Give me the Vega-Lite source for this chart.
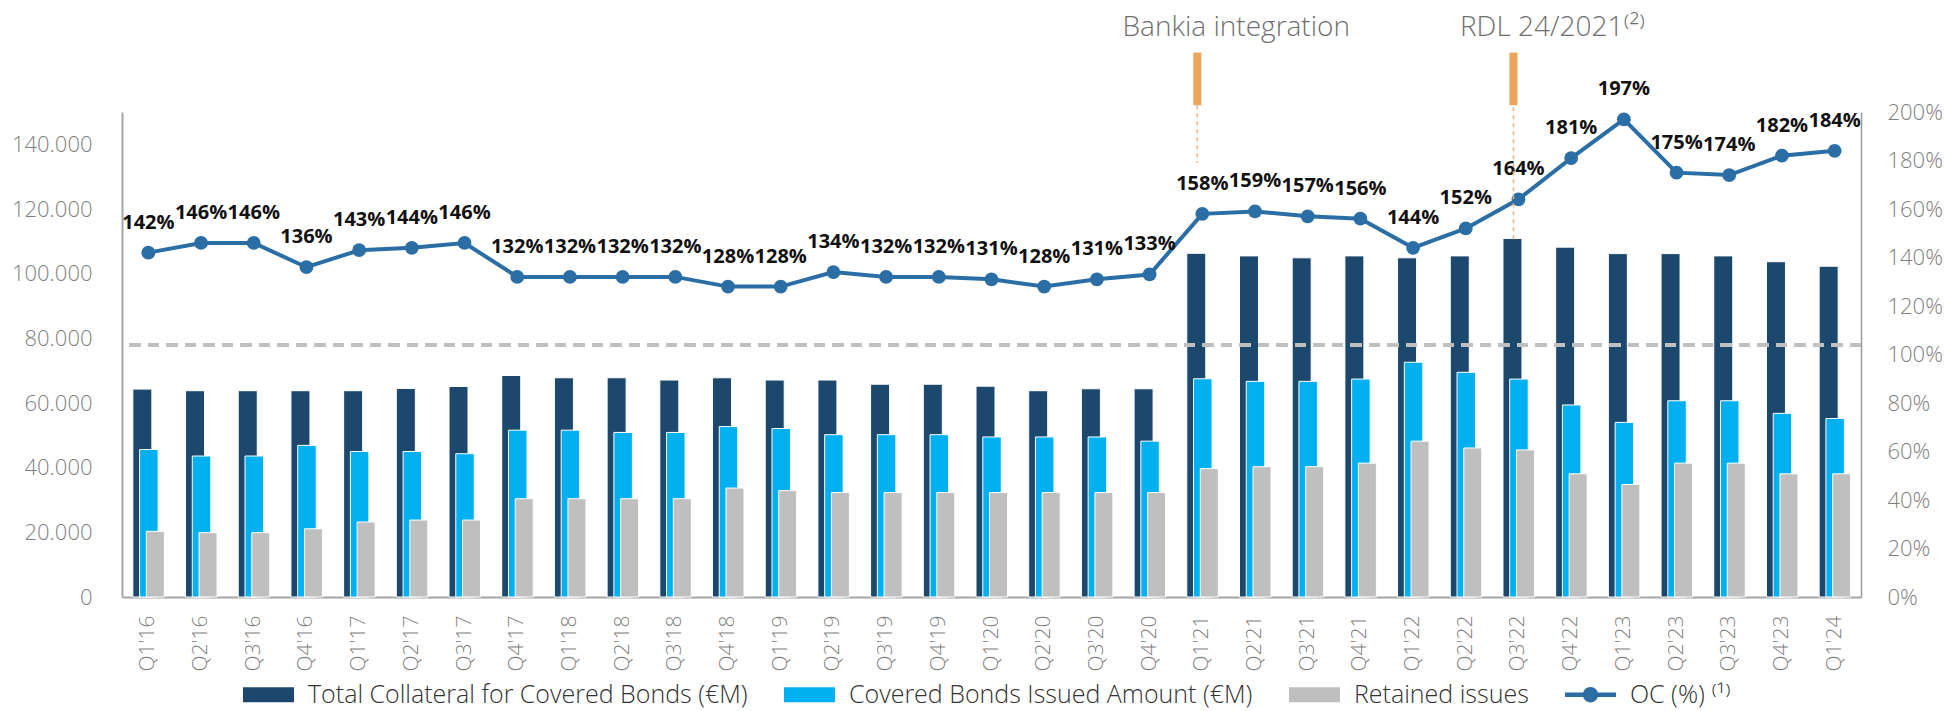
{
  "$schema": "https://vega.github.io/schema/vega-lite/v6.json",
  "width": 1739,
  "height": 485,
  "autosize": "none",
  "padding": {"left": 122, "top": 112, "right": 83, "bottom": 114},
  "background": "white",
  "config": {"view": {"stroke": null}, "font": "Open Sans"},
  "datasets": {
    "main": [
      {"q": "Q1'16", "total": 64300, "issued": 45600, "retained": 20300, "oc": 1.42},
      {"q": "Q2'16", "total": 63800, "issued": 43600, "retained": 19900, "oc": 1.46},
      {"q": "Q3'16", "total": 63800, "issued": 43600, "retained": 19900, "oc": 1.46},
      {"q": "Q4'16", "total": 63800, "issued": 46900, "retained": 21100, "oc": 1.36},
      {"q": "Q1'17", "total": 63800, "issued": 45000, "retained": 23200, "oc": 1.43},
      {"q": "Q2'17", "total": 64500, "issued": 45000, "retained": 23800, "oc": 1.44},
      {"q": "Q3'17", "total": 65100, "issued": 44300, "retained": 23800, "oc": 1.46},
      {"q": "Q4'17", "total": 68500, "issued": 51600, "retained": 30400, "oc": 1.32},
      {"q": "Q1'18", "total": 67800, "issued": 51600, "retained": 30400, "oc": 1.32},
      {"q": "Q2'18", "total": 67800, "issued": 50900, "retained": 30400, "oc": 1.32},
      {"q": "Q3'18", "total": 67100, "issued": 50900, "retained": 30400, "oc": 1.32},
      {"q": "Q4'18", "total": 67800, "issued": 52700, "retained": 33700, "oc": 1.28},
      {"q": "Q1'19", "total": 67100, "issued": 52100, "retained": 32900, "oc": 1.28},
      {"q": "Q2'19", "total": 67100, "issued": 50200, "retained": 32300, "oc": 1.34},
      {"q": "Q3'19", "total": 65800, "issued": 50200, "retained": 32300, "oc": 1.32},
      {"q": "Q4'19", "total": 65800, "issued": 50200, "retained": 32300, "oc": 1.32},
      {"q": "Q1'20", "total": 65200, "issued": 49500, "retained": 32300, "oc": 1.31},
      {"q": "Q2'20", "total": 63800, "issued": 49500, "retained": 32300, "oc": 1.28},
      {"q": "Q3'20", "total": 64400, "issued": 49500, "retained": 32300, "oc": 1.31},
      {"q": "Q4'20", "total": 64400, "issued": 48200, "retained": 32300, "oc": 1.33},
      {"q": "Q1'21", "total": 106300, "issued": 67500, "retained": 39700, "oc": 1.58},
      {"q": "Q2'21", "total": 105500, "issued": 66700, "retained": 40300, "oc": 1.59},
      {"q": "Q3'21", "total": 104900, "issued": 66700, "retained": 40300, "oc": 1.57},
      {"q": "Q4'21", "total": 105500, "issued": 67400, "retained": 41400, "oc": 1.56},
      {"q": "Q1'22", "total": 104900, "issued": 72600, "retained": 48200, "oc": 1.44},
      {"q": "Q2'22", "total": 105500, "issued": 69500, "retained": 46100, "oc": 1.52},
      {"q": "Q3'22", "total": 110900, "issued": 67400, "retained": 45500, "oc": 1.64},
      {"q": "Q4'22", "total": 108200, "issued": 59400, "retained": 38100, "oc": 1.81},
      {"q": "Q1'23", "total": 106200, "issued": 54000, "retained": 34800, "oc": 1.97},
      {"q": "Q2'23", "total": 106200, "issued": 60700, "retained": 41400, "oc": 1.75},
      {"q": "Q3'23", "total": 105500, "issued": 60700, "retained": 41400, "oc": 1.74},
      {"q": "Q4'23", "total": 103700, "issued": 56800, "retained": 38100, "oc": 1.82},
      {"q": "Q1'24", "total": 102300, "issued": 55200, "retained": 38100, "oc": 1.84}
    ],
    "events": [
      {"q": "Q1'21", "label": "Bankia integration"},
      {"q": "Q3'22", "label": "RDL 24/2021⁽²⁾"}
    ]
  },
  "data": {"name": "main"},
  "layer": [
    {
      "layer": [
        {
          "mark": {"type": "bar", "width": 19, "xOffset": -6, "stroke": "white", "strokeWidth": 1},
          "encoding": {
            "x": {
              "field": "q", "type": "ordinal",
              "scale": {"domain": ["Q1'16","Q2'16","Q3'16","Q4'16","Q1'17","Q2'17","Q3'17","Q4'17","Q1'18","Q2'18","Q3'18","Q4'18","Q1'19","Q2'19","Q3'19","Q4'19","Q1'20","Q2'20","Q3'20","Q4'20","Q1'21","Q2'21","Q3'21","Q4'21","Q1'22","Q2'22","Q3'22","Q4'22","Q1'23","Q2'23","Q3'23","Q4'23","Q1'24"], "paddingInner": 0, "paddingOuter": 0},
              "axis": {"title": null, "labelAngle": -90, "labelPadding": 18, "ticks": false, "domainColor": "#a6a6a6", "domainWidth": 2, "labelFontSize": 21, "labelColor": "#7f7f7f", "labelFontWeight": 300, "labelFont": "Open Sans"}
            },
            "y": {
              "field": "total", "type": "quantitative", "stack": null, "title": null,
              "scale": {"domain": [0, 150000], "nice": false},
              "axis": {"orient": "left", "values": [0, 20000, 40000, 60000, 80000, 100000, 120000, 140000], "labelExpr": "replace(format(datum.value, ','), ',', '.')", "grid": false, "ticks": false, "domainColor": "#a6a6a6", "domainWidth": 2, "labelPadding": 30, "labelFontSize": 22, "labelColor": "#7f7f7f", "labelFontWeight": 300, "labelFont": "Open Sans"}
            },
            "color": {
              "datum": "Total Collateral for Covered Bonds (€M)",
              "scale": {"domain": ["Total Collateral for Covered Bonds (€M)", "Covered Bonds Issued Amount (€M)", "Retained issues", "OC (%)"], "range": ["#1c486e", "#00b0f0", "#bfbfbf", "#2a6ea5"]},
              "legend": {
                "title": null, "orient": "none", "legendX": 121, "legendY": 557, "direction": "horizontal",
                "symbolSize": 2601, "labelFontSize": 25, "labelFont": "Open Sans", "labelFontWeight": 300, "labelColor": "#333333",
                "labelOffset": 14, "columnPadding": 36, "labelLimit": 700, "padding": 0,
                "symbolStrokeWidth": 0, "symbolOpacity": 1,
                "symbolType": {"expr": "datum.value === 'OC (%)' ? 'M-1,-0.09H1V0.09H-1Z M0.3,0A0.3,0.3,0,1,1,-0.3,0A0.3,0.3,0,1,1,0.3,0Z' : 'M-1,-0.29H1V0.29H-1Z'"},
                "labelExpr": "datum.label === 'OC (%)' ? 'OC (%)  ⁽¹⁾' : datum.label"
              }
            }
          }
        },
        {
          "mark": {"type": "bar", "width": 18.5, "xOffset": 0.5, "stroke": "white", "strokeWidth": 1},
          "encoding": {
            "x": {"field": "q", "type": "ordinal", "scale": {"domain": ["Q1'16","Q2'16","Q3'16","Q4'16","Q1'17","Q2'17","Q3'17","Q4'17","Q1'18","Q2'18","Q3'18","Q4'18","Q1'19","Q2'19","Q3'19","Q4'19","Q1'20","Q2'20","Q3'20","Q4'20","Q1'21","Q2'21","Q3'21","Q4'21","Q1'22","Q2'22","Q3'22","Q4'22","Q1'23","Q2'23","Q3'23","Q4'23","Q1'24"]}},
            "y": {"field": "issued", "type": "quantitative", "stack": null, "title": null},
            "color": {"datum": "Covered Bonds Issued Amount (€M)"}
          }
        },
        {
          "mark": {"type": "bar", "width": 18, "xOffset": 7, "stroke": "white", "strokeWidth": 1},
          "encoding": {
            "x": {"field": "q", "type": "ordinal", "scale": {"domain": ["Q1'16","Q2'16","Q3'16","Q4'16","Q1'17","Q2'17","Q3'17","Q4'17","Q1'18","Q2'18","Q3'18","Q4'18","Q1'19","Q2'19","Q3'19","Q4'19","Q1'20","Q2'20","Q3'20","Q4'20","Q1'21","Q2'21","Q3'21","Q4'21","Q1'22","Q2'22","Q3'22","Q4'22","Q1'23","Q2'23","Q3'23","Q4'23","Q1'24"]}},
            "y": {"field": "retained", "type": "quantitative", "stack": null, "title": null},
            "color": {"datum": "Retained issues"}
          }
        },
        {
          "mark": {"type": "rule", "strokeDash": [11, 7.5], "color": "#c0c0c0", "strokeWidth": 3},
          "encoding": {"y": {"datum": 77900}}
        }
      ]
    },
    {
      "layer": [
        {
          "mark": {"type": "line", "strokeWidth": 4},
          "encoding": {
            "x": {"field": "q", "type": "ordinal", "scale": {"domain": ["Q1'16","Q2'16","Q3'16","Q4'16","Q1'17","Q2'17","Q3'17","Q4'17","Q1'18","Q2'18","Q3'18","Q4'18","Q1'19","Q2'19","Q3'19","Q4'19","Q1'20","Q2'20","Q3'20","Q4'20","Q1'21","Q2'21","Q3'21","Q4'21","Q1'22","Q2'22","Q3'22","Q4'22","Q1'23","Q2'23","Q3'23","Q4'23","Q1'24"]}},
            "y": {
              "field": "oc", "type": "quantitative", "title": null,
              "scale": {"domain": [0, 2], "nice": false},
              "axis": {"orient": "right", "values": [0, 0.2, 0.4, 0.6, 0.8, 1, 1.2, 1.4, 1.6, 1.8, 2], "format": ".0%", "grid": false, "ticks": false, "domainColor": "#9a9a9a", "domainWidth": 1.5, "labelPadding": 26, "labelFontSize": 22, "labelColor": "#7f7f7f", "labelFontWeight": 300, "labelFont": "Open Sans"}
            },
            "color": {"datum": "OC (%)"}
          }
        },
        {
          "mark": {"type": "point", "filled": true, "size": 190, "opacity": 1},
          "encoding": {
            "x": {"field": "q", "type": "ordinal", "scale": {"domain": ["Q1'16","Q2'16","Q3'16","Q4'16","Q1'17","Q2'17","Q3'17","Q4'17","Q1'18","Q2'18","Q3'18","Q4'18","Q1'19","Q2'19","Q3'19","Q4'19","Q1'20","Q2'20","Q3'20","Q4'20","Q1'21","Q2'21","Q3'21","Q4'21","Q1'22","Q2'22","Q3'22","Q4'22","Q1'23","Q2'23","Q3'23","Q4'23","Q1'24"]}},
            "y": {"field": "oc", "type": "quantitative", "title": null, "scale": {"domain": [0, 2], "nice": false}},
            "color": {"datum": "OC (%)"}
          }
        },
        {
          "mark": {"type": "text", "dy": -30, "fontSize": 20, "fontWeight": "bold", "color": "#111111", "font": "Open Sans"},
          "encoding": {
            "x": {"field": "q", "type": "ordinal", "scale": {"domain": ["Q1'16","Q2'16","Q3'16","Q4'16","Q1'17","Q2'17","Q3'17","Q4'17","Q1'18","Q2'18","Q3'18","Q4'18","Q1'19","Q2'19","Q3'19","Q4'19","Q1'20","Q2'20","Q3'20","Q4'20","Q1'21","Q2'21","Q3'21","Q4'21","Q1'22","Q2'22","Q3'22","Q4'22","Q1'23","Q2'23","Q3'23","Q4'23","Q1'24"]}},
            "y": {"field": "oc", "type": "quantitative", "title": null, "scale": {"domain": [0, 2], "nice": false}},
            "text": {"field": "oc", "format": ".0%"}
          }
        },
        {
          "data": {"name": "events"},
          "mark": {"type": "text", "fontSize": 28, "fontWeight": 300, "color": "#6f6f6f", "baseline": "alphabetic", "align": "center", "xOffset": 34, "font": "Open Sans"},
          "encoding": {
            "x": {"field": "q", "type": "ordinal", "scale": {"domain": ["Q1'16","Q2'16","Q3'16","Q4'16","Q1'17","Q2'17","Q3'17","Q4'17","Q1'18","Q2'18","Q3'18","Q4'18","Q1'19","Q2'19","Q3'19","Q4'19","Q1'20","Q2'20","Q3'20","Q4'20","Q1'21","Q2'21","Q3'21","Q4'21","Q1'22","Q2'22","Q3'22","Q4'22","Q1'23","Q2'23","Q3'23","Q4'23","Q1'24"]}},
            "y": {"datum": 2.313, "scale": {"domain": [0, 2], "nice": false}},
            "text": {"field": "label"}
          }
        },
        {
          "data": {"name": "events"},
          "mark": {"type": "rule", "color": "#eea35c", "strokeWidth": 8, "xOffset": -5},
          "encoding": {
            "x": {"field": "q", "type": "ordinal", "scale": {"domain": ["Q1'16","Q2'16","Q3'16","Q4'16","Q1'17","Q2'17","Q3'17","Q4'17","Q1'18","Q2'18","Q3'18","Q4'18","Q1'19","Q2'19","Q3'19","Q4'19","Q1'20","Q2'20","Q3'20","Q4'20","Q1'21","Q2'21","Q3'21","Q4'21","Q1'22","Q2'22","Q3'22","Q4'22","Q1'23","Q2'23","Q3'23","Q4'23","Q1'24"]}},
            "y": {"datum": 2.245, "scale": {"domain": [0, 2], "nice": false}},
            "y2": {"datum": 2.028}
          }
        },
        {
          "data": {"name": "events"},
          "transform": [{"filter": {"field": "label", "equal": "Bankia integration"}}],
          "mark": {"type": "rule", "color": "#f0b27a", "strokeWidth": 1.5, "strokeDash": [4, 4], "xOffset": -5},
          "encoding": {
            "x": {"field": "q", "type": "ordinal", "scale": {"domain": ["Q1'16","Q2'16","Q3'16","Q4'16","Q1'17","Q2'17","Q3'17","Q4'17","Q1'18","Q2'18","Q3'18","Q4'18","Q1'19","Q2'19","Q3'19","Q4'19","Q1'20","Q2'20","Q3'20","Q4'20","Q1'21","Q2'21","Q3'21","Q4'21","Q1'22","Q2'22","Q3'22","Q4'22","Q1'23","Q2'23","Q3'23","Q4'23","Q1'24"]}},
            "y": {"datum": 2.028, "scale": {"domain": [0, 2], "nice": false}},
            "y2": {"datum": 1.79}
          }
        },
        {
          "data": {"name": "events"},
          "transform": [{"filter": {"field": "label", "equal": "RDL 24/2021⁽²⁾"}}],
          "mark": {"type": "rule", "color": "#f0b27a", "strokeWidth": 1.5, "strokeDash": [4, 4], "xOffset": -5},
          "encoding": {
            "x": {"field": "q", "type": "ordinal", "scale": {"domain": ["Q1'16","Q2'16","Q3'16","Q4'16","Q1'17","Q2'17","Q3'17","Q4'17","Q1'18","Q2'18","Q3'18","Q4'18","Q1'19","Q2'19","Q3'19","Q4'19","Q1'20","Q2'20","Q3'20","Q4'20","Q1'21","Q2'21","Q3'21","Q4'21","Q1'22","Q2'22","Q3'22","Q4'22","Q1'23","Q2'23","Q3'23","Q4'23","Q1'24"]}},
            "y": {"datum": 2.02, "scale": {"domain": [0, 2], "nice": false}},
            "y2": {"datum": 1.46}
          }
        }
      ]
    }
  ],
  "resolve": {"scale": {"y": "independent"}}
}
